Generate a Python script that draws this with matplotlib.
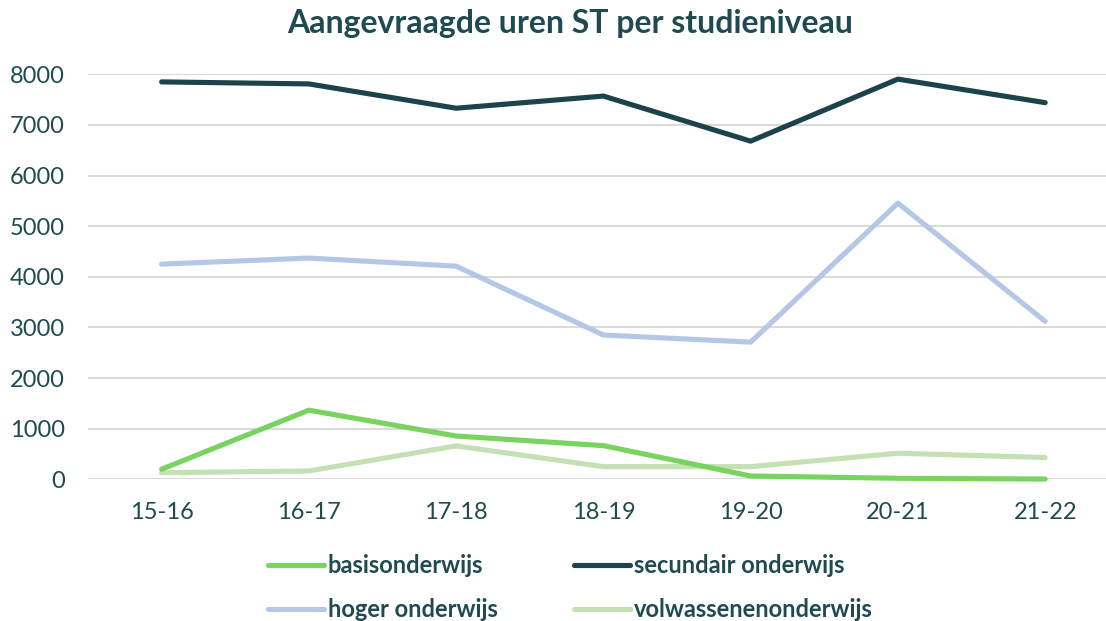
import matplotlib.pyplot as plt

plt.rcParams['font.family'] = ['Lato', 'DejaVu Sans']

# data
jaren = ["15-16", "16-17", "17-18", "18-19", "19-20", "20-21", "21-22"]
basisonderwijs = [200, 1365, 855, 665, 65, 20, 5]
secundair = [7850, 7810, 7330, 7570, 6680, 7905, 7440]
hoger = [4250, 4370, 4210, 2850, 2710, 5455, 3120]
volwassenen = [130, 165, 660, 250, 250, 515, 430]

tekst = "#1e4a50"
fig = plt.figure(figsize=(11.06, 6.21), dpi=100)
# axes in figure fractions: left 88, right edge of image, y 0->479, 8000->74
W, H = 1106, 621
ax = fig.add_axes([88 / W, (H - 479.3) / H, (W - 88) / W, (479.3 - 74.3) / H])

x = list(range(len(jaren)))
lw = 3.7
stijl = dict(lw=lw, solid_capstyle="round", solid_joinstyle="round", clip_on=False)
l_basis, = ax.plot(x, basisonderwijs, color="#78d35f", label="basisonderwijs", zorder=4, **stijl)
l_sec, = ax.plot(x, secundair, color="#1b4349", label="secundair onderwijs", zorder=3, **stijl)
l_hoger, = ax.plot(x, hoger, color="#b4c7e7", label="hoger onderwijs", zorder=3, **stijl)
l_volw, = ax.plot(x, volwassenen, color="#c5e0b4", label="volwassenenonderwijs", zorder=3, **stijl)

ax.set_xlim(-0.5, (W - 162) / 147.2)
ax.set_ylim(0, 8000)
ax.set_yticks(range(0, 8001, 1000))
ax.set_xticks(x)
ax.set_xticklabels(jaren)
ax.grid(axis="y", color="#d9d9d9", lw=1.4)
ax.set_axisbelow(True)
for s in ax.spines.values():
    s.set_visible(False)
ax.tick_params(length=0, labelsize=17, colors=tekst)
ax.tick_params(axis="y", pad=16.5)
ax.tick_params(axis="x", pad=16)

fig.text(570 / W, 1 - 23 / H, "Aangevraagde uren ST per studieniveau",
         ha="center", va="center", fontsize=23, fontweight="bold", color=tekst)

# kolomsgewijs gevuld: basis/hoger links, secundair/volwassenen rechts
handles = [l_basis, l_hoger, l_sec, l_volw]
leg = fig.legend(handles, [h.get_label() for h in handles], loc="upper left",
                 bbox_to_anchor=(268 / W, 1 - 554 / H), ncol=2,
                 frameon=False, handlelength=2.37, handletextpad=0.15,
                 columnspacing=3.25, labelspacing=0.88, borderpad=0, borderaxespad=0,
                 prop={"weight": "bold", "size": 17})
for t in leg.get_texts():
    t.set_color(tekst)

fig.savefig("out.png", dpi=100)
